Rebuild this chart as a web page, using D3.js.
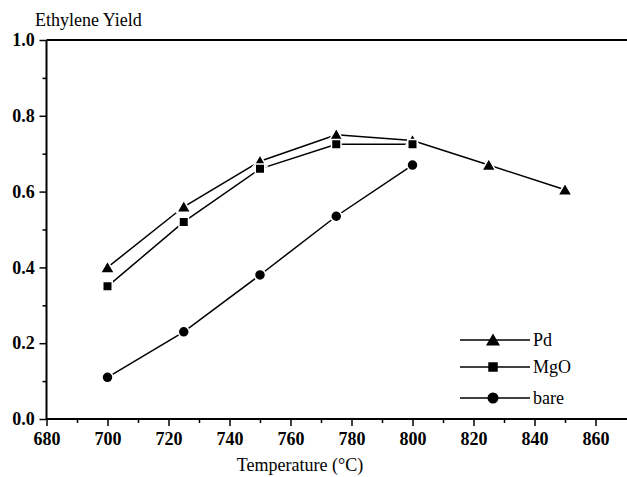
<!DOCTYPE html>
<html><head><meta charset="utf-8">
<script src="https://cdn.jsdelivr.net/npm/d3@7"></script>
<style>body{margin:0;background:#fff}svg{display:block}
svg text{font-family:"Tinos","Liberation Serif","Nimbus Roman","FreeSerif","DejaVu Serif",serif;}</style>
</head><body>
<script>
const temps = [700, 725, 750, 775, 800, 825, 850];
const pdValues = [0.40, 0.56, 0.68, 0.75, 0.735, 0.67, 0.605];
const mgoValues = [0.35, 0.52, 0.66, 0.725, 0.725];
const bareValues = [0.11, 0.23, 0.38, 0.535, 0.67];
const seriesNames = ["Pd", "MgO", "bare"];
const xTicks = [680, 700, 720, 740, 760, 780, 800, 820, 840, 860];
const yTicks = [0.0, 0.2, 0.4, 0.6, 0.8, 1.0];

const W = 627, H = 477;
const svg = d3.select("body").append("svg").attr("width", W).attr("height", H);
const x = d3.scaleLinear().domain([680, 870]).range([46.5, 626]);
const y = d3.scaleLinear().domain([0, 1]).range([419, 40]);

svg.append("line").attr("x1", x(680)).attr("x2", W).attr("y1", y(1)).attr("y2", y(1))
  .attr("stroke", "#000").attr("stroke-width", 2);

const xAxis = svg.append("g").attr("transform", `translate(0,${y(0)})`)
  .call(d3.axisBottom(x).tickValues(xTicks).tickFormat(d3.format("d")).tickSize(7).tickSizeOuter(0));
svg.append("g").attr("transform", `translate(0,${y(0)})`)
  .call(d3.axisBottom(x).tickValues(d3.range(690, 870, 20)).tickFormat("").tickSize(4).tickSizeOuter(0))
  .select(".domain").remove();
const yAxis = svg.append("g").attr("transform", `translate(${x(680)},0)`)
  .call(d3.axisLeft(y).tickValues(yTicks).tickFormat(d3.format(".1f")).tickSize(7).tickSizeOuter(0));
svg.append("g").attr("transform", `translate(${x(680)},0)`)
  .call(d3.axisLeft(y).tickValues([0.1, 0.3, 0.5, 0.7, 0.9]).tickFormat("").tickSize(4).tickSizeOuter(0))
  .select(".domain").remove();

svg.selectAll("g").attr("font-family", null);
svg.selectAll(".domain").attr("stroke", "#000").attr("stroke-width", 2);
svg.selectAll(".tick line").attr("stroke", "#000").attr("stroke-width", 1.5);
xAxis.selectAll("text").attr("font-weight", "bold").attr("font-size", 18).attr("dy", "0.9em").attr("fill", "#000");
yAxis.selectAll("text").attr("font-weight", "bold").attr("font-size", 18).attr("dx", "-0.1em").attr("fill", "#000");
yAxis.select(".domain").remove();
svg.append("line").attr("x1", x(680)).attr("x2", x(680)).attr("y1", y(0)).attr("y2", y(1))
  .attr("stroke", "#000").attr("stroke-width", 2);
xAxis.select(".domain").attr("d", `M${x(680)},0H${W}`);

svg.append("text").attr("x", 35).attr("y", 26).attr("font-size", 18).text("Ethylene Yield");
svg.append("text").attr("x", 300).attr("y", 471).attr("text-anchor", "middle").attr("font-size", 18).text("Temperature (°C)");

const tri = d3.symbol().type(d3.symbolTriangle).size(85);
const sq = d3.symbol().type(d3.symbolSquare).size(90);
const circ = d3.symbol().type(d3.symbolCircle).size(95);
const shapes = [tri, sq, circ];
const data = [pdValues, mgoValues, bareValues];
const line = d3.line().x((d, i) => x(temps[i])).y(d => y(d));

data.forEach((vals) => {
  svg.append("path").attr("d", line(vals)).attr("fill", "none").attr("stroke", "#000").attr("stroke-width", 1.5);
});
data.forEach((vals, k) => {
  svg.selectAll(null).data(vals).enter().append("path")
    .attr("d", shapes[k])
    .attr("transform", (d, i) => `translate(${x(temps[i])},${y(d) + (k === 0 ? 1.5 : 0)})`)
    .attr("fill", "#000").attr("stroke", "#fff").attr("stroke-width", 1.5);
});

const legY = [340, 367, 398];
seriesNames.forEach((name, k) => {
  const g = svg.append("g");
  g.append("line").attr("x1", 460).attr("x2", 530).attr("y1", legY[k]).attr("y2", legY[k]).attr("stroke", "#000").attr("stroke-width", 1.5);
  g.append("path").attr("d", shapes[k]).attr("transform", `translate(493,${legY[k] + (k === 0 ? 1.5 : 0)})`).attr("fill", "#000");
  g.append("text").attr("x", 533).attr("y", legY[k] + 6).attr("font-size", 18).text(name);
});
</script>
</body></html>
